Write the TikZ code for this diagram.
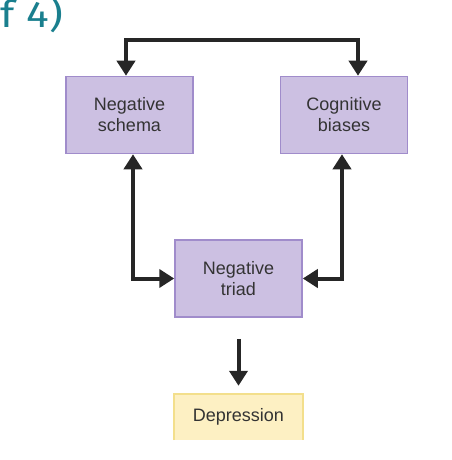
\documentclass[tikz,border=0pt]{standalone}
\usepackage{fontspec}
\setmainfont{Liberation Sans}
\newfontfamily\titlefont{Fira Sans}
\usetikzlibrary{arrows.meta}
\definecolor{pfill}{HTML}{CCC0E2}
\definecolor{pbord}{HTML}{A08CCB}
\definecolor{yfill}{HTML}{FDF0C3}
\definecolor{ybord}{HTML}{F3DF8C}
\definecolor{teal}{HTML}{1A7F8E}
\definecolor{txt}{HTML}{333333}
\tikzset{
  pbox/.style={draw=pbord, line width=1.5pt, fill=pfill, minimum width=127pt, minimum height=77pt,
    inner sep=0pt, align=center, text=txt, font=\fontsize{18}{21}\selectfont},
  arr/.style={line width=4pt, draw=black!85, -{Triangle[width=18pt,length=15pt]}},
  dbl/.style={line width=4pt, draw=black!85, {Triangle[width=18pt,length=15pt]}-{Triangle[width=18pt,length=15pt]}},
}
\begin{document}
\begin{tikzpicture}[x=1pt,y=-1pt]
\useasboundingbox (0,0) rectangle (451,460);
\node[anchor=base east, text=teal, font=\titlefont\fontsize{37}{40}\selectfont, inner sep=0pt] (title) at (63,28) {\scalebox{1.15}[1]{f 4)}};
\node[pbox] (ns) at (129.5,115) {Negative\\schema};
\node[pbox] (cb) at (344,115) {Cognitive\\biases};
\node[pbox] (tr) at (238.5,278.5) {Negative\\triad};
\node[fill=yfill, minimum width=129pt, minimum height=46pt, inner sep=0pt, text=txt,
  font=\fontsize{18}{21}\selectfont] (dep) at (238.5,417) {Depression};
\draw[ybord, line width=1.5pt] (dep.south west) -- (dep.north west) -- (dep.north east) -- (dep.south east);
\coordinate (tl) at (126,40);
\coordinate (trc) at (358,40);
\draw[dbl, line join=miter] ([xshift=-3.5pt]ns.north) -- (tl) -- (trc) -- ([xshift=14pt]cb.north);
\draw[dbl, line join=miter] ([xshift=3.5pt]ns.south) |- (tr.west);
\draw[dbl, line join=miter] ([xshift=-2pt]cb.south) |- (tr.east);
\draw[arr] ([yshift=-21pt]tr.south) -- ([yshift=8pt]dep.north);
\end{tikzpicture}
\end{document}
